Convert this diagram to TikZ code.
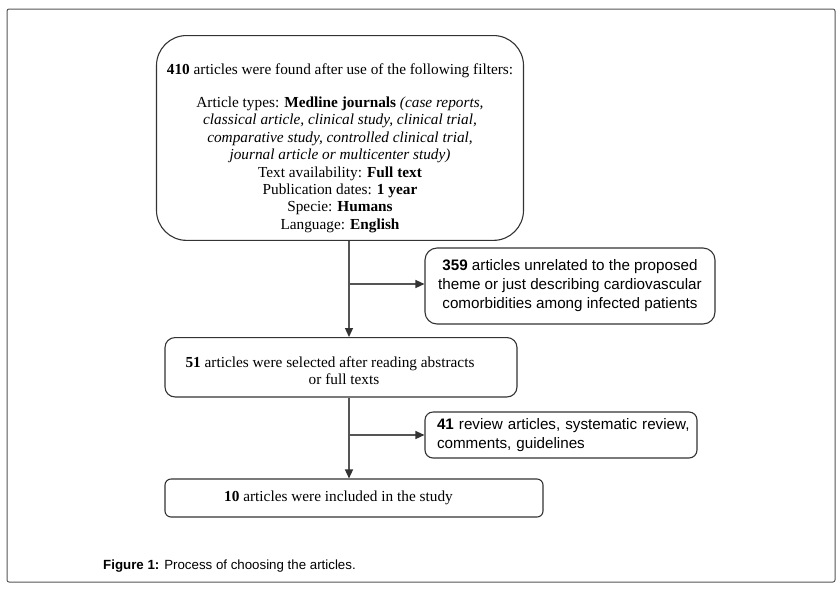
\documentclass[tikz,border=0pt]{standalone}
\usepackage{fontspec}
\setmainfont{Liberation Serif}
\setsansfont{Liberation Sans}
\usetikzlibrary{arrows.meta}
\definecolor{boxgray}{HTML}{333333}
\definecolor{linegray}{HTML}{555555}
\definecolor{framegray}{HTML}{555555}
\begin{document}
\begin{tikzpicture}[x=1pt,y=-1pt,
  box/.style={draw=boxgray, line width=1.1pt, inner sep=0pt, align=center},
  serifbox/.style={box, font=\fontsize{15.3}{17.4}\selectfont},
  sansbox/.style={box, font=\sffamily\fontsize{15.2}{19}\selectfont},
  conn/.style={draw=linegray, line width=1.3pt},
  arr/.style={conn, -{Triangle[length=9pt,width=8pt,color=boxgray]}}]
\useasboundingbox (0,0) rectangle (840,590);
\draw[framegray, line width=1pt, rounded corners=2pt] (7,9) rectangle (835,582);

\node[serifbox, rounded corners=30pt, minimum width=367pt, anchor=north] (top) at (340,35)
 {\rule{0pt}{39pt}\textbf{410} articles were found after use of the following filters:\\[15.6pt]
  Article types: \textbf{Medline journals} \textit{(case reports,}\\
  \textit{classical article, clinical study, clinical trial,}\\
  \textit{comparative study, controlled clinical trial,}\\
  \textit{journal article or multicenter study)}\hspace*{16pt}\\
  Text availability: \textbf{Full text}\\
  Publication dates: \textbf{1 year}\\
  Specie: \textbf{Humans}\\
  Language: \textbf{English}\rule[-11pt]{0pt}{11pt}};

\node[sansbox, rounded corners=12pt, minimum width=290pt, minimum height=76pt] (b359) at (570,286)
 {\textbf{359} articles unrelated to the proposed\\
  theme or just describing cardiovascular\\
  comorbidities among infected patients};

\node[serifbox, rounded corners=10pt, minimum width=352pt, anchor=north] (b51) at (341,337)
 {\rule{0pt}{30pt}\textbf{51} articles were selected after reading abstracts\hspace*{22pt}\\
  \hspace*{6pt}or full texts\rule[-12pt]{0pt}{12pt}};

\node[sansbox, rounded corners=8pt, minimum width=272pt, minimum height=46pt, text width=262pt, align=left] (b41) at (561,435)
 {\hspace*{7pt}\textbf{41} review articles, systematic review,\\
  \hspace*{7pt}comments, guidelines};

\node[serifbox, rounded corners=6pt, minimum width=378pt, minimum height=38pt] (b10) at (354,498)
 {\textbf{10} articles were included in the study\hspace*{31pt}};

\node[anchor=base west, inner sep=0pt, font=\sffamily\fontsize{13.3}{15}\selectfont] (cap) at (103,569)
 {\textbf{Figure 1:} Process of choosing the articles.};

\coordinate (s1) at (349,284);
\coordinate (s2) at (349,435);
\draw[arr] (top.south -| s1) -- (b51.north -| s1);
\draw[arr] (s1) -- (s1 -| b359.west);
\draw[arr] (b51.south -| s2) -- (b10.north -| s2);
\draw[arr] (s2) -- (s2 -| b41.west);
\end{tikzpicture}
\end{document}
